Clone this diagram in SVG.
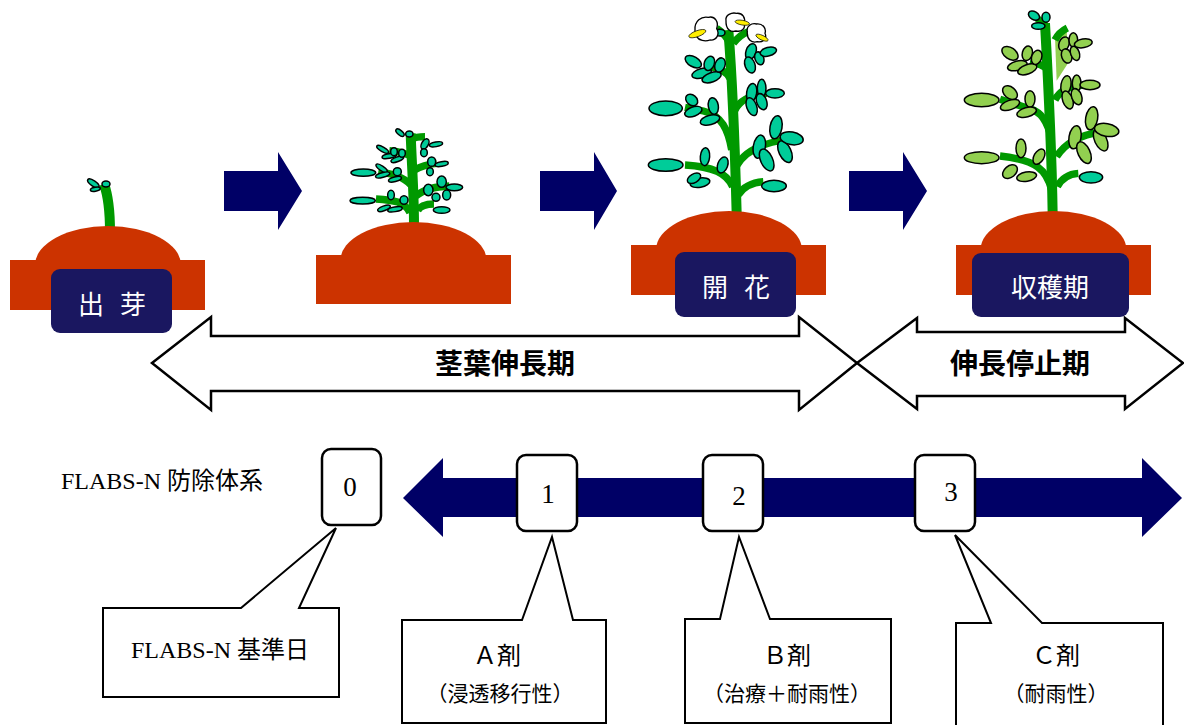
<svg xmlns="http://www.w3.org/2000/svg" width="1184" height="725" viewBox="0 0 1184 725">
<style>
.soil{fill:#cc3300}
.lbl{fill:#1a1760}
.lbltxt{fill:#ffffff;font-family:"Noto Sans CJK JP","Noto Sans",sans-serif;font-size:26px;text-anchor:middle}
.nav{fill:#000066}
.stem{fill:none;stroke:#009900;stroke-width:30}
.br{fill:none;stroke:#009900;stroke-width:22}
.lf{fill:#00cc99;stroke:#000;stroke-width:4.5}
.lg{fill:#92d050;stroke:#000;stroke-width:4.5}
.fl{fill:#fff;stroke:#000;stroke-width:4}
.yl{fill:#ffee00;stroke:#000;stroke-width:2}
.dbl{fill:#fff;stroke:#000;stroke-width:2.5;stroke-linejoin:miter}
.per{font-family:"Noto Sans CJK JP","Noto Sans",sans-serif;font-size:28px;font-weight:bold;text-anchor:middle;fill:#000}
.box{fill:#fff;stroke:#000;stroke-width:2.5}
.num{font-family:"Liberation Serif",serif;font-size:27px;text-anchor:middle;fill:#000}
.call{fill:#fff;stroke:#000;stroke-width:2}
.ser{font-family:"Liberation Serif","Noto Sans CJK JP",serif;font-size:24px;fill:#000}
.sub{font-family:"Liberation Serif","Noto Sans CJK JP",serif;font-size:21px;fill:#000;text-anchor:middle}
.mid{text-anchor:middle}
</style>

<!-- Stage arrows -->
<g id="stage-arrows">
<polygon class="nav" points="224,171 278,171 278,152 302,191 278,230 278,211 224,211"/>
<polygon class="nav" points="540,171 594,171 594,152 617,191 594,230 594,211 540,211"/>
<polygon class="nav" points="849,171 903,171 903,152 927,191 903,230 903,211 849,211"/>
</g>

<!-- Plant 1: emergence -->
<g id="plant-emergence">
<g transform="translate(0,120) scale(0.3333)">
<path class="stem" d="M330,335 C330,270 322,220 312,192" stroke-width="28"/>
<ellipse class="lf" cx="280" cy="190" rx="20" ry="8" transform="rotate(35,280,190)"/>
<ellipse class="lf" cx="286" cy="208" rx="15" ry="6" transform="rotate(-10,286,208)"/>
<ellipse class="lf" cx="318" cy="192" rx="12" ry="9"/>
</g>
<ellipse class="soil" cx="108" cy="265" rx="73" ry="39"/>
<rect class="soil" x="10" y="260" width="195" height="50"/>
<rect class="lbl" x="51" y="269" width="121" height="64" rx="9"/>
<text class="lbltxt" x="112" y="314" word-spacing="10">出 芽</text>
</g>

<!-- Plant 2 -->
<g id="plant-growth">
<g transform="translate(310,120) scale(0.3333)">
<path class="stem" d="M312,310 C312,220 305,130 302,40"/>
<path class="br" d="M300,278 C285,245 250,240 198,237"/>
<path class="br" d="M323,272 C330,258 345,252 372,252"/>
<path class="br" d="M318,228 C345,205 380,200 418,198"/>
<path class="br" d="M303,195 C280,170 250,162 205,155"/>
<path class="br" d="M313,150 C330,140 350,133 380,130"/>
<path class="br" d="M305,110 C290,100 265,95 238,92"/>
<path class="br" d="M303,58 C315,52 330,50 345,50"/>
<ellipse class="lf" cx="160" cy="158" rx="37" ry="11"/>
<ellipse class="lf" cx="158" cy="242" rx="38" ry="10"/>
<ellipse class="lf" cx="218" cy="88" rx="20" ry="7" transform="rotate(30,218,88)"/>
<ellipse class="lf" cx="238" cy="108" rx="22" ry="7" transform="rotate(-10,238,108)"/>
<ellipse class="lf" cx="262" cy="118" rx="20" ry="7" transform="rotate(-20,262,118)"/>
<ellipse class="lf" cx="252" cy="95" rx="10" ry="12"/>
<ellipse class="lf" cx="276" cy="100" rx="10" ry="12"/>
<ellipse class="lf" cx="215" cy="145" rx="20" ry="7" transform="rotate(35,215,145)"/>
<ellipse class="lf" cx="218" cy="165" rx="22" ry="7" transform="rotate(-15,218,165)"/>
<ellipse class="lf" cx="262" cy="155" rx="12" ry="12"/>
<ellipse class="lf" cx="255" cy="178" rx="20" ry="7" transform="rotate(-15,255,178)"/>
<ellipse class="lf" cx="243" cy="225" rx="10" ry="14"/>
<ellipse class="lf" cx="222" cy="265" rx="20" ry="7" transform="rotate(-20,222,265)"/>
<ellipse class="lf" cx="255" cy="268" rx="22" ry="7" transform="rotate(-10,255,268)"/>
<ellipse class="lf" cx="282" cy="240" rx="12" ry="13"/>
<ellipse class="lf" cx="270" cy="38" rx="15" ry="7" transform="rotate(40,270,38)"/>
<ellipse class="lf" cx="298" cy="42" rx="11" ry="9"/>
<ellipse class="lf" cx="345" cy="72" rx="10" ry="17" transform="rotate(30,345,72)"/>
<ellipse class="lf" cx="378" cy="73" rx="20" ry="7" transform="rotate(-10,378,73)"/>
<ellipse class="lf" cx="342" cy="98" rx="10" ry="12"/>
<ellipse class="lf" cx="365" cy="125" rx="12" ry="14"/>
<ellipse class="lf" cx="395" cy="132" rx="20" ry="7" transform="rotate(-10,395,132)"/>
<ellipse class="lf" cx="360" cy="155" rx="10" ry="12"/>
<ellipse class="lf" cx="355" cy="210" rx="14" ry="17"/>
<ellipse class="lf" cx="395" cy="185" rx="14" ry="17"/>
<ellipse class="lf" cx="433" cy="202" rx="25" ry="10"/>
<ellipse class="lf" cx="410" cy="225" rx="12" ry="15"/>
<ellipse class="lf" cx="378" cy="232" rx="12" ry="12"/>
<ellipse class="lf" cx="395" cy="270" rx="25" ry="10"/>
</g>
<ellipse class="soil" cx="413.5" cy="260" rx="73" ry="38"/>
<rect class="soil" x="316" y="255" width="195" height="49"/>
</g>

<!-- Plant 3: flowering -->
<g id="plant-flowering">
<g transform="translate(620,0) scale(0.3333)">
<path class="stem" d="M350,640 C345,450 338,250 325,90"/>
<path class="br" d="M330,130 C320,110 305,95 290,85" stroke-width="18"/>
<path class="br" d="M340,130 C355,110 370,100 385,95" stroke-width="18"/>
<path class="br" d="M338,560 C320,520 280,500 195,495"/>
<path class="br" d="M355,585 C370,560 395,548 430,545"/>
<path class="br" d="M348,500 C370,460 420,430 495,420"/>
<path class="br" d="M335,450 C325,390 305,345 250,333 L195,322"/>
<path class="br" d="M345,330 C360,300 390,285 440,280"/>
<path class="br" d="M330,235 C320,215 300,205 270,200"/>
<ellipse class="lf" cx="300" cy="98" rx="15" ry="10"/>
<ellipse class="lf" cx="137" cy="495" rx="52" ry="19"/>
<ellipse class="lf" cx="137" cy="325" rx="50" ry="22"/>
<ellipse class="lf" cx="240" cy="548" rx="30" ry="14" transform="rotate(-10,240,548)"/>
<ellipse class="lf" cx="255" cy="470" rx="14" ry="27" transform="rotate(5,255,470)"/>
<ellipse class="lf" cx="222" cy="535" rx="22" ry="13" transform="rotate(-30,222,535)"/>
<ellipse class="lf" cx="308" cy="495" rx="15" ry="25" transform="rotate(20,308,495)"/>
<ellipse class="lf" cx="280" cy="318" rx="15" ry="25" transform="rotate(-10,280,318)"/>
<ellipse class="lf" cx="270" cy="360" rx="30" ry="14" transform="rotate(-15,270,360)"/>
<ellipse class="lf" cx="220" cy="335" rx="27" ry="14" transform="rotate(-20,220,335)"/>
<ellipse class="lf" cx="215" cy="300" rx="20" ry="15" transform="rotate(40,215,300)"/>
<ellipse class="lf" cx="220" cy="185" rx="27" ry="15" transform="rotate(30,220,185)"/>
<ellipse class="lf" cx="245" cy="220" rx="30" ry="14" transform="rotate(-15,245,220)"/>
<ellipse class="lf" cx="275" cy="232" rx="30" ry="14" transform="rotate(-20,275,232)"/>
<ellipse class="lf" cx="268" cy="190" rx="15" ry="22" transform="rotate(20,268,190)"/>
<ellipse class="lf" cx="300" cy="195" rx="15" ry="22" transform="rotate(20,300,195)"/>
<ellipse class="lf" cx="393" cy="155" rx="15" ry="25" transform="rotate(20,393,155)"/>
<ellipse class="lf" cx="390" cy="195" rx="15" ry="25" transform="rotate(-20,390,195)"/>
<ellipse class="lf" cx="418" cy="175" rx="13" ry="20" transform="rotate(-20,418,175)"/>
<ellipse class="lf" cx="445" cy="155" rx="25" ry="13" transform="rotate(-15,445,155)"/>
<ellipse class="lf" cx="395" cy="278" rx="15" ry="28" transform="rotate(10,395,278)"/>
<ellipse class="lf" cx="395" cy="320" rx="15" ry="28" transform="rotate(-20,395,320)"/>
<ellipse class="lf" cx="425" cy="265" rx="13" ry="27"/>
<ellipse class="lf" cx="425" cy="305" rx="15" ry="25" transform="rotate(-20,425,305)"/>
<ellipse class="lf" cx="465" cy="280" rx="28" ry="14"/>
<ellipse class="lf" cx="418" cy="440" rx="18" ry="35" transform="rotate(10,418,440)"/>
<ellipse class="lf" cx="440" cy="480" rx="18" ry="35" transform="rotate(-25,440,480)"/>
<ellipse class="lf" cx="468" cy="382" rx="18" ry="35" transform="rotate(10,468,382)"/>
<ellipse class="lf" cx="495" cy="455" rx="18" ry="35" transform="rotate(-25,495,455)"/>
<ellipse class="lf" cx="515" cy="415" rx="35" ry="19" transform="rotate(10,515,415)"/>
<ellipse class="lf" cx="462" cy="558" rx="37" ry="17"/>
<path class="fl" d="M225,92 C222,62 245,48 265,52 C285,47 297,66 290,86 C300,102 290,122 270,120 C255,126 236,121 230,110 Z"/>
<path class="fl" d="M318,62 C315,45 335,36 350,40 C368,38 378,55 372,70 C378,85 365,97 348,93 C332,98 317,88 318,62 Z"/>
<path class="fl" d="M382,95 C378,78 395,68 410,72 C428,70 440,85 435,100 C442,115 430,128 412,125 C395,130 380,118 382,95 Z"/>
<ellipse class="yl" cx="232" cy="101" rx="27" ry="9" transform="rotate(-20,232,101)"/>
<ellipse class="yl" cx="367" cy="68" rx="22" ry="7" transform="rotate(10,367,68)"/>
<ellipse class="yl" cx="426" cy="113" rx="20" ry="7" transform="rotate(25,426,113)"/>
</g>
<ellipse class="soil" cx="729" cy="250" rx="73" ry="39"/>
<rect class="soil" x="631" y="245" width="195" height="50"/>
<rect class="lbl" x="675" y="252" width="121" height="65" rx="9"/>
<text class="lbltxt" x="736" y="297" word-spacing="10">開 花</text>
</g>

<!-- Plant 4: harvest -->
<g id="plant-harvest">
<g transform="translate(940,0) scale(0.3333)">
<path d="M345,110 L380,82 L384,190 L350,242 Z" fill="#92d050"/>
<path class="stem" d="M338,640 C335,450 325,250 315,70"/>
<path class="br" d="M320,80 C310,70 300,62 292,56" stroke-width="18"/>
<path class="br" d="M345,120 C355,100 370,90 382,84" stroke-width="18"/>
<path class="br" d="M335,570 C320,510 290,480 180,468"/>
<path class="br" d="M352,560 C365,535 385,522 415,520"/>
<path class="br" d="M350,470 C375,430 420,405 485,395"/>
<path class="br" d="M330,400 C315,350 295,330 255,322 L180,298"/>
<path class="br" d="M345,300 C360,270 390,258 430,255"/>
<path class="br" d="M325,210 C310,195 295,190 270,185"/>
<ellipse class="lg" cx="125" cy="300" rx="52" ry="20"/>
<ellipse class="lg" cx="125" cy="473" rx="52" ry="18"/>
<ellipse class="lg" cx="210" cy="278" rx="25" ry="17" transform="rotate(40,210,278)"/>
<ellipse class="lg" cx="210" cy="315" rx="30" ry="14" transform="rotate(-20,210,315)"/>
<ellipse class="lg" cx="270" cy="297" rx="15" ry="25"/>
<ellipse class="lg" cx="260" cy="337" rx="30" ry="14" transform="rotate(-15,260,337)"/>
<ellipse class="lg" cx="243" cy="445" rx="15" ry="28"/>
<ellipse class="lg" cx="210" cy="515" rx="25" ry="17" transform="rotate(-40,210,515)"/>
<ellipse class="lg" cx="260" cy="530" rx="30" ry="14" transform="rotate(-10,260,530)"/>
<ellipse class="lg" cx="297" cy="470" rx="15" ry="25" transform="rotate(30,297,470)"/>
<ellipse class="lg" cx="210" cy="160" rx="27" ry="17" transform="rotate(35,210,160)"/>
<ellipse class="lg" cx="232" cy="197" rx="30" ry="14" transform="rotate(-15,232,197)"/>
<ellipse class="lg" cx="262" cy="208" rx="30" ry="14" transform="rotate(-20,262,208)"/>
<ellipse class="lg" cx="262" cy="160" rx="15" ry="22" transform="rotate(15,262,160)"/>
<ellipse class="lg" cx="290" cy="172" rx="15" ry="22" transform="rotate(20,290,172)"/>
<ellipse class="lg" cx="372" cy="132" rx="15" ry="22" transform="rotate(20,372,132)"/>
<ellipse class="lg" cx="380" cy="168" rx="15" ry="22" transform="rotate(-20,380,168)"/>
<ellipse class="lg" cx="400" cy="120" rx="13" ry="22"/>
<ellipse class="lg" cx="405" cy="160" rx="13" ry="22" transform="rotate(-20,405,160)"/>
<ellipse class="lg" cx="430" cy="130" rx="27" ry="13" transform="rotate(-10,430,130)"/>
<ellipse class="lg" cx="378" cy="255" rx="15" ry="28" transform="rotate(10,378,255)"/>
<ellipse class="lg" cx="383" cy="300" rx="15" ry="28" transform="rotate(-20,383,300)"/>
<ellipse class="lg" cx="410" cy="250" rx="13" ry="25"/>
<ellipse class="lg" cx="410" cy="290" rx="15" ry="25" transform="rotate(-20,410,290)"/>
<ellipse class="lg" cx="450" cy="255" rx="30" ry="14"/>
<ellipse class="lg" cx="405" cy="412" rx="18" ry="35" transform="rotate(10,405,412)"/>
<ellipse class="lg" cx="432" cy="458" rx="18" ry="35" transform="rotate(-25,432,458)"/>
<ellipse class="lg" cx="455" cy="355" rx="18" ry="35" transform="rotate(10,455,355)"/>
<ellipse class="lg" cx="482" cy="420" rx="18" ry="35" transform="rotate(-25,482,420)"/>
<ellipse class="lg" cx="500" cy="390" rx="37" ry="19" transform="rotate(10,500,390)"/>
<ellipse class="lf" cx="453" cy="532" rx="35" ry="17"/>
<ellipse class="lf" cx="282" cy="47" rx="18" ry="12" transform="rotate(30,282,47)"/>
<ellipse class="lf" cx="318" cy="52" rx="12" ry="15"/>
<ellipse class="lf" cx="295" cy="78" rx="20" ry="10"/>
</g>
<ellipse class="soil" cx="1053.5" cy="250" rx="73" ry="39"/>
<rect class="soil" x="956" y="245" width="195" height="50"/>
<rect class="lbl" x="972" y="253" width="157" height="64" rx="9"/>
<text class="lbltxt" x="1050" y="297">収穫期</text>
</g>

<!-- Period arrows -->
<g id="period-stem-growth">
<polygon class="dbl" points="152,363 211,317 211,336 799,336 799,317 857,363 799,410 799,391 211,391 211,410"/>
<text class="per" x="505" y="374">茎葉伸長期</text>
</g>
<g id="period-growth-stop">
<polygon class="dbl" points="857,363 917,318 917,332 1125,332 1125,318 1183,363 1125,409 1125,396 917,396 917,409"/>
<text class="per" x="1020" y="374">伸長停止期</text>
</g>

<!-- Timeline -->
<g id="timeline-label">
<text class="ser" x="61" y="489">FLABS-N 防除体系</text>
</g>
<g id="connectors">
<polygon class="nav" points="403,498 443,458 443,478 1142,478 1142,458 1182,498 1142,537 1142,517 443,517 443,537"/>
</g>

<g id="step-0">
<rect class="box" x="322" y="449" width="59" height="76" rx="9"/>
<text class="num" x="350" y="496">0</text>
</g>
<g id="step-1">
<rect class="box" x="517" y="455" width="60" height="76" rx="9"/>
<text class="num" x="548" y="503">1</text>
</g>
<g id="step-2">
<rect class="box" x="703" y="455" width="60" height="76" rx="9"/>
<text class="num" x="739" y="505">2</text>
</g>
<g id="step-3">
<rect class="box" x="915" y="455" width="60" height="76" rx="9"/>
<text class="num" x="951" y="501">3</text>
</g>

<!-- Callouts -->
<g id="callout-0">
<path class="call" d="M103,608 L241,608 L336,528 L299,608 L339,608 L339,697 L103,697 Z"/>
<text class="ser mid" x="220" y="658">FLABS-N 基準日</text>
</g>
<g id="callout-A">
<path class="call" d="M402,620 L522,620 L552,537 L573,620 L606,620 L606,723 L402,723 Z"/>
<text class="ser mid" x="497" y="664">Ａ剤</text>
<text class="sub" x="500" y="701">（浸透移行性）</text>
</g>
<g id="callout-B">
<path class="call" d="M685,619 L720,619 L739,537 L770,619 L891,619 L891,723 L685,723 Z"/>
<text class="ser mid" x="787" y="664">Ｂ剤</text>
<text class="sub" x="787" y="701">（治療＋耐雨性）</text>
</g>
<g id="callout-C">
<path class="call" d="M956,623 L991,623 L955,535 L1042,623 L1163,623 L1163,730 L956,730 Z"/>
<text class="ser mid" x="1056" y="664">Ｃ剤</text>
<text class="sub" x="1056" y="701">（耐雨性）</text>
</g>
</svg>
